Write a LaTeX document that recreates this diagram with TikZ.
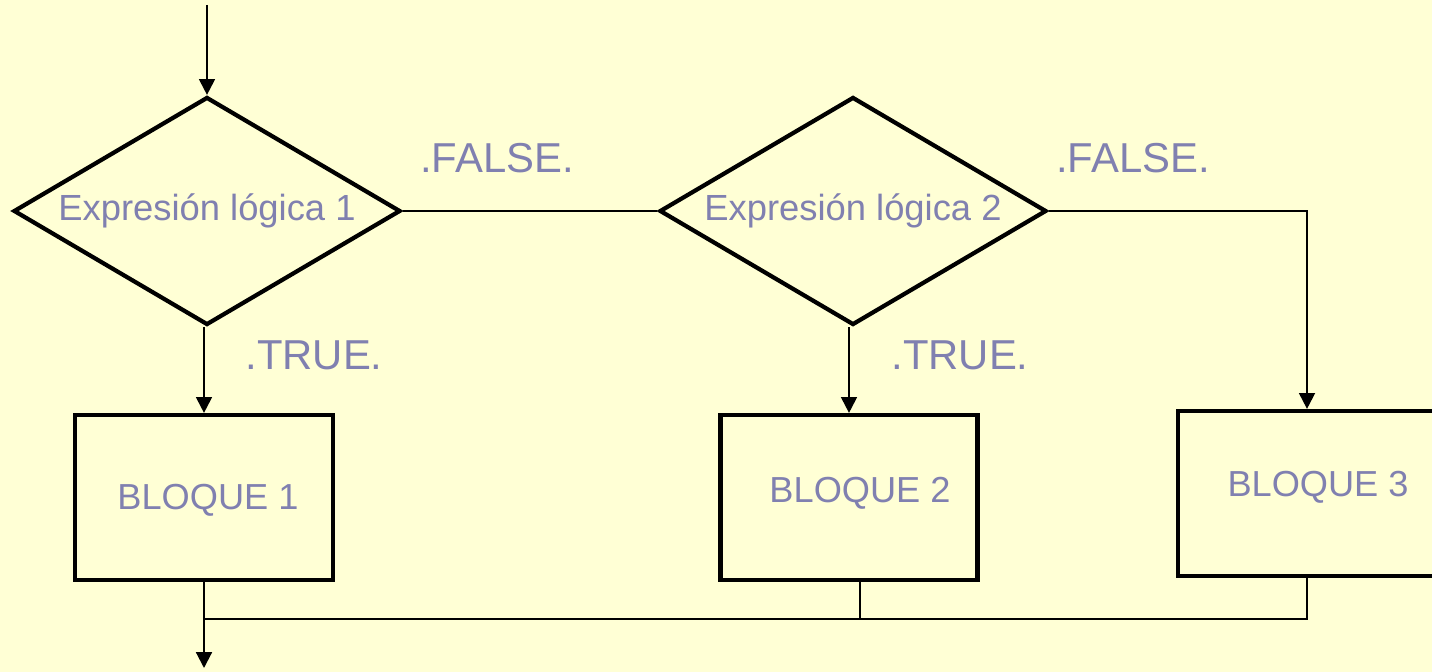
\documentclass[tikz,border=0pt]{standalone}
\usepackage{fontspec}
\setmainfont{Liberation Sans}
\usetikzlibrary{shapes.geometric,arrows.meta}
\definecolor{bg}{RGB}{255,255,213}
\definecolor{txt}{RGB}{128,128,176}
\begin{document}
\begin{tikzpicture}[x=0.02cm,y=-0.02cm,
  decision/.style={draw,diamond,aspect=1.697,line width=2.4pt,minimum width=7.74cm,minimum height=4.56cm,inner sep=0pt,text=txt,font=\fontsize{20.7}{24}\selectfont},
  block/.style={draw,rectangle,line width=2.4pt,minimum width=5.16cm,minimum height=3.3cm,inner sep=0pt},
  btext/.style={text=txt,font=\fontsize{20.6}{24}\selectfont},
  lbl/.style={text=txt,font=\fontsize{23.8}{28}\selectfont},
  conn/.style={line width=1.2pt},
  arr/.style={conn,-{Triangle[length=9pt,width=9pt]}}]
\fill[bg] (0,0) rectangle (1432,672);
\useasboundingbox (0,0) rectangle (1432,672);
\node[decision] (d1) at (207,211) {Expresión lógica 1};
\node[decision] (d2) at (853,211) {Expresión lógica 2};
\node[block] (b1) at (204,497.5) {};
\node[block,minimum width=5.14cm] (b2) at (849,497.5) {};
\node[block,minimum width=5.28cm] (b3) at (1310,493.5) {};
\node[btext] (t1) at (208,500) {BLOQUE 1};
\node[btext] (t2) at (860,493) {BLOQUE 2};
\node[btext] (t3) at (1318,487) {BLOQUE 3};
\node[lbl] (f1) at (497,158) {.FALSE.};
\node[lbl] (f2) at (1133,158) {.FALSE.};
\node[lbl] (v1) at (314,355) {.TRUE.};
\node[lbl] (v2) at (960,355) {.TRUE.};
\coordinate (start) at (207,5);
\coordinate (c3) at (1307,211);
\coordinate (j) at (204,619);
\coordinate (k) at (1307,619);
\coordinate (end) at (204,668);
\draw[arr] (start) -- (d1.north);
\draw[conn] (d1.east) -- (d2.west);
\draw[arr] (d2.east) -- (c3) -- (c3 |- b3.north);
\draw[arr] (d1.south -| b1.north) -- (b1.north);
\draw[arr] (d2.south -| b2.north) -- (b2.north);
\draw[arr] (b1.south) -- (end);
\draw[conn] (j) -- (k) -- (k |- b3.south);
\draw[conn] (t2 |- b2.south) -- (t2 |- j);
\end{tikzpicture}
\end{document}
